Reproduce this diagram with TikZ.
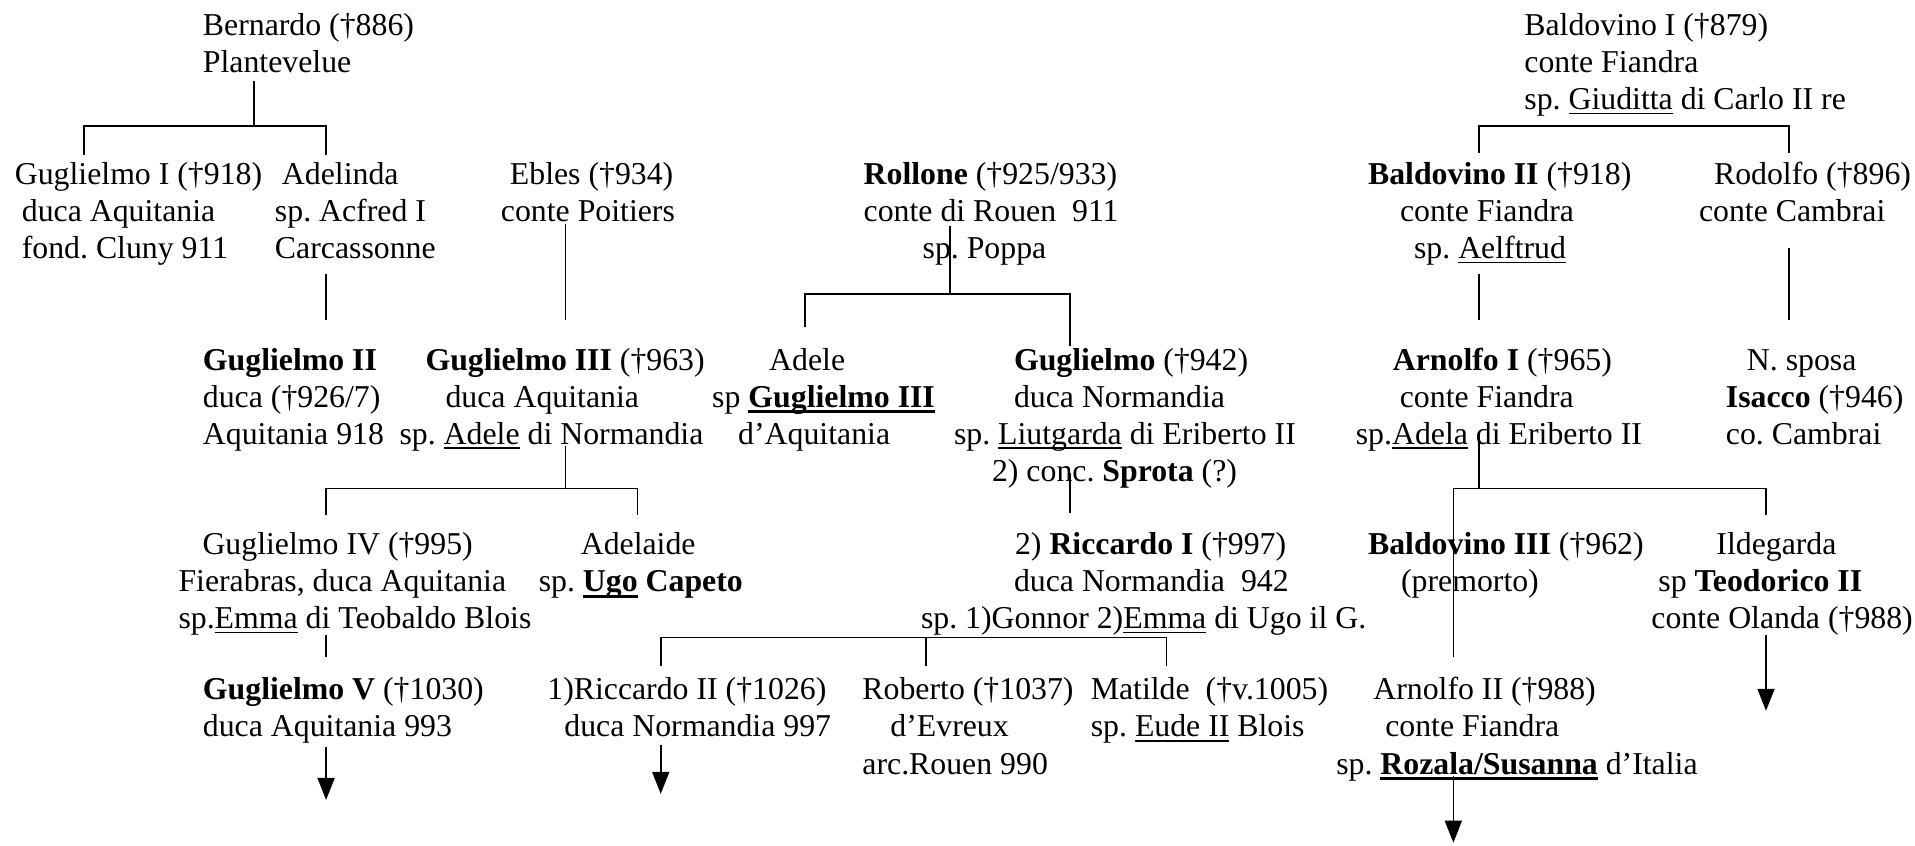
\documentclass[tikz,border=0pt]{standalone}
\usepackage{fontspec}
\setmainfont{Liberation Serif}
\usetikzlibrary{arrows.meta}
\frenchspacing
\newcommand\myind[1]{\hspace*{#1pt}}
\newcommand\myul[1]{\setbox0\hbox{#1}\rlap{\rule[-4.6pt]{\wd0}{1.8pt}}\box0\relax}
\newcommand\myulb[1]{\setbox0\hbox{\textbf{#1}}\rlap{\rule[-6.2pt]{\wd0}{3pt}}\box0\relax}
\begin{document}
\begin{tikzpicture}[x=1.2213pt,y=-1.2213pt,
  person/.style={anchor=north west, inner sep=0pt, align=left, font=\fontsize{31.8}{37.2}\selectfont},
  link/.style={line width=1.7pt},
  arrow/.style={line width=1.7pt, -{Triangle[width=17pt,length=22pt]}}]
\useasboundingbox[fill=white] (0,0) rectangle (1568,692);
% generation 0
\node[person] (bernardo) at (166,7.5) {\strut Bernardo (†886)\\Plantevelue};
\node[person] (baldovinoI) at (1248,7.5) {\strut Baldovino I (†879)\\conte Fiandra\\sp. \myul{Giuditta} di Carlo II re};
% generation 1
\node[person] (guglielmoI) at (12,129.5) {\strut Guglielmo I (†918)\\\myind{7}duca Aquitania\\\myind{7}fond. Cluny 911};
\node[person] (adelinda) at (225,129.5) {\strut\myind{7}Adelinda\\sp. Acfred I\\Carcassonne};
\node[person] (ebles) at (410,129.5) {\strut\myind{9}Ebles (†934)\\conte Poitiers};
\node[person] (rollone) at (707,129.5) {\strut\textbf{Rollone} (†925/933)\\conte di Rouen~ 911\\\myind{59}sp. Poppa};
\node[person] (baldovinoII) at (1120,129.5) {\strut\textbf{Baldovino II} (†918)\\\myind{32}conte Fiandra\\\myind{46}sp. \myul{Aelftrud}};
\node[person] (rodolfo) at (1391,129.5) {\strut\myind{15}Rodolfo (†896)\\conte Cambrai};
% generation 2
\node[person] (guglielmoII) at (166,281.5) {\strut\textbf{Guglielmo II}\\duca (†926/7)\\Aquitania 918};
\node[person] (guglielmoIII) at (327,281.5) {\strut\myind{26}\textbf{Guglielmo III} (†963)\\\myind{46}duca Aquitania\\sp. \myul{Adele} di Normandia};
\node[person] (adele) at (583,281.5) {\strut\myind{57}Adele\\sp \myulb{Guglielmo III}\\\myind{26}d’Aquitania};
\node[person] (guglielmo) at (781,281.5) {\strut\myind{60}\textbf{Guglielmo} (†942)\\\myind{60}duca Normandia\\sp. \myul{Liutgarda} di Eriberto II\\\myind{38}2) conc. \textbf{Sprota} (?)};
\node[person] (arnolfoI) at (1110,281.5) {\strut\myind{37}\textbf{Arnolfo I} (†965)\\\myind{44}conte Fiandra\\sp.\myul{Adela} di Eriberto II};
\node[person] (nsposa) at (1413,281.5) {\strut\myind{21}N. sposa\\\textbf{Isacco} (†946)\\co. Cambrai};
% generation 3
\node[person] (guglielmoIV) at (146,432.5) {\strut\myind{24}Guglielmo IV (†995)\\Fierabras, duca Aquitania\\sp.\myul{Emma} di Teobaldo Blois};
\node[person] (adelaide) at (441,432.5) {\strut\myind{42}Adelaide\\sp. \myulb{Ugo} \textbf{Capeto}};
\node[person] (riccardoI) at (754,432.5) {\strut\myind{94}2) \textbf{Riccardo I} (†997)\\\myind{93}duca Normandia~ 942\\sp. 1)Gonnor 2)\myul{Emma} di Ugo il G.};
\node[person] (baldovinoIII) at (1120,432.5) {\strut\textbf{Baldovino III} (†962)\\\myind{33}(premorto)};
\node[person] (ildegarda) at (1352,432.5) {\strut\myind{65}Ildegarda\\\myind{7}sp \textbf{Teodorico II}\\conte Olanda (†988)};
% generation 4
\node[person] (guglielmoV) at (166,551.5) {\strut\textbf{Guglielmo V} (†1030)\\duca Aquitania 993};
\node[person] (riccardoII) at (448,551.5) {\strut 1)Riccardo II (†1026)\\\myind{17}duca Normandia 997};
\node[person] (roberto) at (706,551.5) {\strut Roberto (†1037)\\\myind{28}d’Evreux\\arc.Rouen 990};
\node[person] (matilde) at (893,551.5) {\strut Matilde~ (†v.1005)\\sp. \myul{Eude II} Blois};
\node[person] (arnolfoII) at (1094,551.5) {\strut\myind{37}Arnolfo II (†988)\\\myind{49}conte Fiandra\\sp. \myulb{Rozala/Susanna} d’Italia};
% connectors
\draw[link] (208,66) -- (208,103);
\draw[link] (69,127) |- (267,103) -- (267,127);
\draw[link] (1211,125) |- (1465,103) -- (1465,125);
\draw[link] (267,224) -- (267,262);
\draw[link] (463,183) -- (463,262);
\draw[link] (778,185) -- (778,241);
\draw[link] (659,268) |- (876,241) -- (876,283);
\draw[link] (1211,224) -- (1211,262);
\draw[link] (1465,203) -- (1465,262);
\draw[link] (463,365) -- (463,400);
\draw[link] (267,422) |- (522,400) -- (522,422);
\draw[link] (876,387) -- (876,420);
\draw[link] (1211,355) -- (1211,400);
\draw[link] (1190,538) |- (1446,400) -- (1446,422);
\draw[link] (267,520) -- (267,538);
\draw[link] (541,545) |- (955,522) -- (955,545);
\draw[link] (758,522) -- (758,545);
\draw[arrow] (1446,520) -- (1446,582);
\draw[arrow] (267,612) -- (267,655);
\draw[arrow] (541,610) -- (541,650);
\draw[arrow] (1190,635) -- (1190,690);
\end{tikzpicture}
\end{document}
